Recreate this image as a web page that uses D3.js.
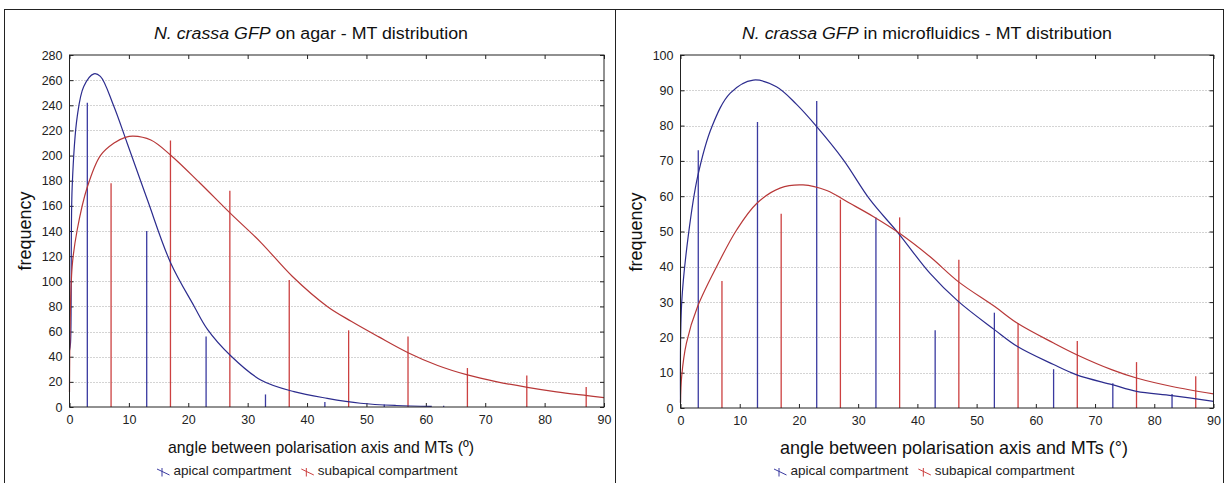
<!DOCTYPE html>
<html>
<head>
<meta charset="utf-8">
<script src="https://cdn.jsdelivr.net/npm/d3@7"></script>
<style>
  html, body { margin: 0; padding: 0; background: #ffffff; }
  svg { display: block; font-family: "Liberation Sans", Arial, sans-serif; }
</style>
</head>
<body>
<svg id="chart" width="1225" height="483"></svg>
<script>
// ---------------- DATA ----------------
const xTicks = [0, 10, 20, 30, 40, 50, 60, 70, 80, 90];
const yTicksAgar = [0, 20, 40, 60, 80, 100, 120, 140, 160, 180, 200, 220, 240, 260, 280];
const yTicksMicro = [0, 10, 20, 30, 40, 50, 60, 70, 80, 90, 100];

const seriesNames = ["apical compartment", "subapical compartment"];

// bar positions (angle, degrees)
const apicalBarX = [3, 13, 23, 33, 43, 53, 63, 73, 83];
const subapicalBarX = [7, 17, 27, 37, 47, 57, 67, 77, 87];

// agar panel bars
const agarApical = [242, 140, 56, 10, 4, 2, 1, 0, 0];
const agarSubapical = [178, 212, 172, 101, 61, 56, 31, 25, 16];

// microfluidics panel bars
const microApical = [73, 81, 87, 54, 22, 27, 11, 7, 4];
const microSubapical = [36, 55, 59, 54, 42, 24, 19, 13, 9];

// fitted curves
const agarApicalCurveX = [0, 0.17, 0.45, 1.3, 2.4, 4.1, 5.2, 7.4, 9.7, 13.1, 17, 21, 23.2, 27.1, 32.2, 37.8, 43.4, 49, 55, 61];
const agarApicalCurveY = [45, 51, 175, 231, 255, 265, 263, 240, 210, 165, 115, 80, 62, 41, 21.5, 12.2, 6.9, 3, 1.2, 0.5];

const agarSubCurveX = [0, 0.45, 1.3, 3, 5.2, 7.5, 9.4, 10.7, 13.7, 17, 22, 27.1, 32.2, 37.5, 43.4, 47.5, 52, 57.1, 62, 67, 72, 77.1, 82, 87.2, 90];
const agarSubCurveY = [12, 112, 141, 175, 200, 210, 214.5, 215.5, 212.4, 200.5, 178, 154, 131, 104, 80, 68, 56, 43, 33, 25.5, 20, 15.6, 12, 9, 7.4];

const microApicalCurveX = [0, 0.2, 1.3, 2.9, 5.3, 8.4, 12.3, 16.2, 19.6, 23, 27.5, 32, 36.8, 42.1, 46.9, 53, 56.9, 63, 66.9, 72.9, 77, 83, 90];
const microApicalCurveY = [1.5, 29.8, 48.6, 65.6, 79.7, 89.2, 92.9, 91, 86, 79.7, 70.3, 59, 49.5, 38.2, 30.2, 22.2, 17.4, 12.3, 9.4, 6.6, 4.7, 3.5, 1.9];

const microSubCurveX = [0, 0.2, 1, 2.9, 6.7, 9.5, 12.9, 16.8, 20.7, 24.7, 28.6, 32.6, 36.8, 42.1, 46.9, 53, 56.9, 63, 66.9, 72.9, 77, 83, 90];
const microSubCurveY = [1.5, 9, 18.4, 28.8, 42, 50.5, 58, 62.3, 63.2, 61.6, 58, 54.2, 49.7, 42.9, 35.8, 28.8, 24, 18.4, 15.1, 10.8, 8.5, 6.1, 4];

// ---------------- STYLE ----------------
const BLUE = "#3a3aa0";
const BLUE_CURVE = "#2c2c8e";
const RED = "#cc4040";
const RED_CURVE = "#b83838";

const svg = d3.select("#chart");

// outer panel frames
svg.append("rect").attr("x", 4.5).attr("y", 9.5).attr("width", 1219).attr("height", 490)
  .attr("fill", "none").attr("stroke", "#222").attr("stroke-width", 1);
svg.append("line").attr("x1", 615.5).attr("x2", 615.5).attr("y1", 9.5).attr("y2", 483)
  .attr("stroke", "#222").attr("stroke-width", 1);

function drawPanel(cfg) {
  const x = d3.scaleLinear().domain([0, 90]).range([cfg.left, cfg.right]);
  const y = d3.scaleLinear().domain([0, cfg.yMax]).range([cfg.bottom, cfg.top]);
  const g = svg.append("g");

  // gridlines
  g.append("g").selectAll("line").data(cfg.yTicks.slice(1, -1)).join("line")
    .attr("x1", cfg.left).attr("x2", cfg.right)
    .attr("y1", d => Math.round(y(d)) + 0.5).attr("y2", d => Math.round(y(d)) + 0.5)
    .attr("stroke", "#a8a8a8").attr("stroke-width", 1).attr("stroke-dasharray", "1,2");

  // axes (inward ticks)
  const axB = d3.axisBottom(x).tickValues(cfg.xTicks).tickSize(-4).tickPadding(8).tickFormat(d3.format("d"));
  const axT = d3.axisTop(x).tickValues(cfg.xTicks).tickSize(-4).tickFormat("");
  const axL = d3.axisLeft(y).tickValues(cfg.yTicks).tickSize(-4).tickPadding(7).tickFormat(d3.format("d"));
  const axR = d3.axisRight(y).tickValues(cfg.yTicks).tickSize(-4).tickFormat("");

  function style(sel) {
    sel.select(".domain").remove();
    sel.selectAll("line").attr("stroke", "#222");
    sel.selectAll("text").attr("font-size", 12.5).attr("fill", "#222")
      .attr("font-family", "'Liberation Sans Narrow', 'Arial Narrow', 'Liberation Sans', Arial, sans-serif");
  }
  g.append("g").attr("transform", `translate(0,${cfg.bottom})`).call(axB).call(style);
  g.append("g").attr("transform", `translate(0,${cfg.top})`).call(axT).call(style);
  g.append("g").attr("transform", `translate(${cfg.left},0)`).call(axL).call(style);
  g.append("g").attr("transform", `translate(${cfg.right},0)`).call(axR).call(style);

  // bars (needles)
  const bars = [
    { xs: apicalBarX, vs: cfg.apical, color: BLUE },
    { xs: subapicalBarX, vs: cfg.subapical, color: RED }
  ];
  bars.forEach(b => {
    g.append("g").selectAll("line").data(b.vs.map((v, i) => [b.xs[i], v]).filter(d => d[1] > 0)).join("line")
      .attr("x1", d => x(d[0])).attr("x2", d => x(d[0]))
      .attr("y1", y(0)).attr("y2", d => y(d[1]))
      .attr("stroke", b.color).attr("stroke-width", 1.3);
  });

  // curves
  const line = d3.line().x(d => x(d[0])).y(d => y(d[1])).curve(d3.curveCatmullRom.alpha(0.5));
  [
    { xs: cfg.apCurveX, ys: cfg.apCurveY, color: BLUE_CURVE },
    { xs: cfg.subCurveX, ys: cfg.subCurveY, color: RED_CURVE }
  ].forEach(c => {
    g.append("path").datum(c.xs.map((v, i) => [v, c.ys[i]]))
      .attr("d", line).attr("fill", "none").attr("stroke", c.color).attr("stroke-width", 1.2);
  });

  // plot frame
  g.append("rect").attr("x", cfg.left).attr("y", cfg.top)
    .attr("width", cfg.right - cfg.left).attr("height", cfg.bottom - cfg.top)
    .attr("fill", "none").attr("stroke", "#222").attr("stroke-width", 1);

  // title
  const t = g.append("text").attr("x", cfg.titleX).attr("y", cfg.titleY)
    .attr("font-size", 16).attr("fill", "#111")
    .attr("textLength", cfg.titleW).attr("lengthAdjust", "spacingAndGlyphs");
  t.append("tspan").attr("font-style", "italic").text("N. crassa GFP");
  t.append("tspan").text(cfg.titleRest);

  // x label
  g.append("text").attr("x", cfg.xLabX).attr("y", cfg.xLabY)
    .attr("font-size", cfg.xLabSize).attr("fill", "#111")
    .attr("textLength", cfg.xLabW).attr("lengthAdjust", "spacingAndGlyphs")
    .text(cfg.xLabel);

  // y label
  g.append("text").attr("transform", `translate(${cfg.yLabX},${cfg.yLabY}) rotate(-90)`)
    .attr("text-anchor", "middle").attr("font-size", 18).attr("fill", "#111")
    .text("frequency");

  // legend
  const lg = g.append("g").attr("transform", `translate(${cfg.legX},${cfg.legY})`);
  let cx = 0;
  [BLUE, RED].forEach((col, i) => {
    lg.append("line").attr("x1", cx).attr("y1", -6).attr("x2", cx + 12.5).attr("y2", 0)
      .attr("stroke", col).attr("stroke-width", 1);
    lg.append("line").attr("x1", cx + 5).attr("y1", -7).attr("x2", cx + 5).attr("y2", 1.5)
      .attr("stroke", col).attr("stroke-width", 1);
    const tx = lg.append("text").attr("x", cx + 16.5).attr("y", 0)
      .attr("font-size", 13.5).attr("fill", "#222").text(seriesNames[i]);
    cx = cx + 16.5 + tx.node().getComputedTextLength() + 10;
  });
}

drawPanel({
  left: 69.5, right: 604, top: 55, bottom: 407, yMax: 280,
  xTicks: xTicks, yTicks: yTicksAgar,
  apical: agarApical, subapical: agarSubapical,
  apCurveX: agarApicalCurveX, apCurveY: agarApicalCurveY,
  subCurveX: agarSubCurveX, subCurveY: agarSubCurveY,
  titleX: 154, titleY: 39, titleW: 314, titleRest: " on agar - MT distribution",
  xLabX: 168, xLabY: 453, xLabW: 306, xLabSize: 17,
  xLabel: "angle between polarisation axis and MTs (\u00BA)",
  yLabX: 31, yLabY: 231,
  legX: 157, legY: 475
});

drawPanel({
  left: 680.5, right: 1213.5, top: 55, bottom: 408, yMax: 100,
  xTicks: xTicks, yTicks: yTicksMicro,
  apical: microApical, subapical: microSubapical,
  apCurveX: microApicalCurveX, apCurveY: microApicalCurveY,
  subCurveX: microSubCurveX, subCurveY: microSubCurveY,
  titleX: 742, titleY: 39, titleW: 370, titleRest: " in microfluidics - MT distribution",
  xLabX: 780, xLabY: 454, xLabW: 348, xLabSize: 19,
  xLabel: "angle between polarisation axis and MTs (\u00B0)",
  yLabX: 642, yLabY: 232,
  legX: 774, legY: 475
});
</script>
</body>
</html>
